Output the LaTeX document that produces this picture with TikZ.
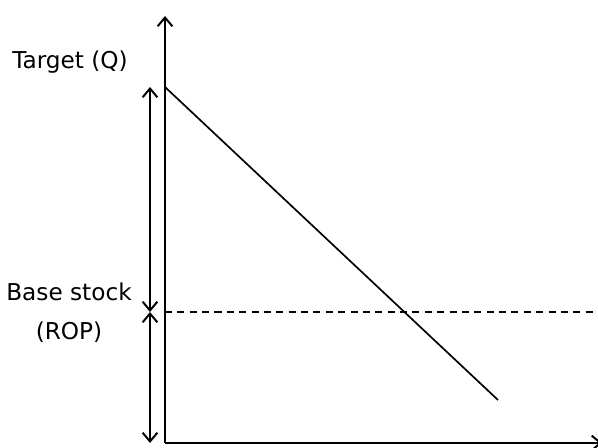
\documentclass[tikz,border=0pt]{standalone}
\usepackage{fontspec}
\setmainfont{DejaVu Sans}
\usepackage{tikz}
\usetikzlibrary{arrows.meta,positioning}
\tikzstyle{label} = [align=center, font=\fontsize{16.5}{19}\selectfont, inner sep=0pt]
\tikzstyle{arrow} = [-{Straight Barb[length=2.2mm,width=3.7mm]}, line width=1.4pt]
\tikzstyle{both}  = [{Straight Barb[length=2.2mm,width=3.7mm]}-{Straight Barb[length=2.2mm,width=3.7mm]}, line width=1.4pt]

\begin{document}
\begin{tikzpicture}
    \useasboundingbox (0,0) rectangle (14.95,11.2);
    \coordinate (orig)  at (4.125,0.125);
    \coordinate (ytop)  at (4.125,10.8);
    \coordinate (xend)  at (15.05,0.125);
    \coordinate (qtop)  at (4.125,9.025);
    \coordinate (qend)  at (12.45,1.2);
    \coordinate (rop)   at (4.125,3.4);
    \coordinate (ropend) at (15.1,3.4);
    \coordinate (mtop)  at (3.75,9.025);
    \coordinate (mmid)  at (3.75,3.4);
    \coordinate (mbot)  at (3.75,0.125);

    \node [label] (target) at (1.75,9.65) {Target (Q)};
    \node [label] (base)   at (1.725,3.9) {Base stock};
    \node [label, below=0.5cm of base] (ropl) {(ROP)};

    \draw [arrow] (orig) -- (ytop);
    \draw [arrow] (orig) -- (xend);
    \draw [line width=1.2pt] (qtop) -- (qend);
    \draw [line width=1.2pt, dash pattern=on 5pt off 3.8pt] (rop) -- (ropend);
    \draw [both] (mmid) -- (mtop);
    \draw [both] (mbot) -- (mmid);
  \end{tikzpicture}
\end{document}
